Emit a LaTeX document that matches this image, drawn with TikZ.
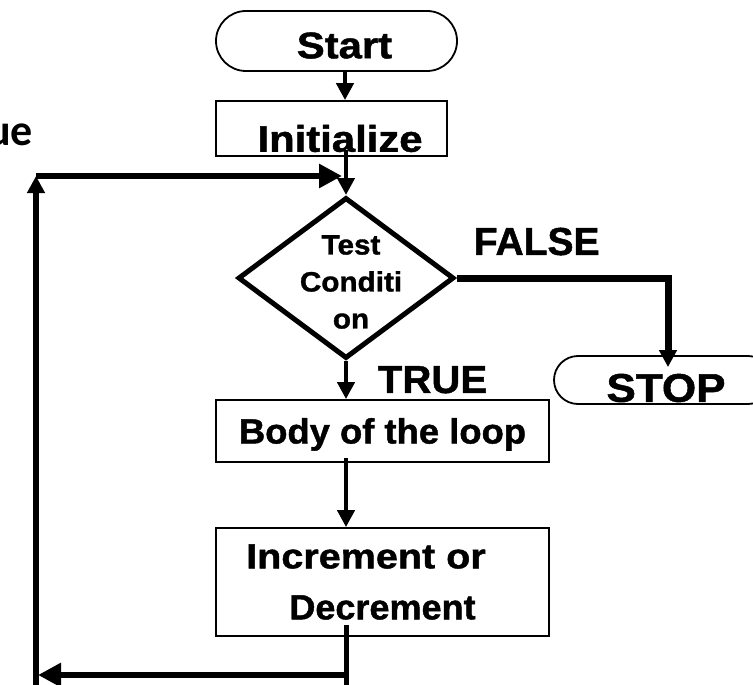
\documentclass[tikz,border=0pt]{standalone}
\usepackage{fontspec}
\usepackage{graphicx}
\setmainfont{Liberation Sans}[BoldFeatures={FakeBold=1.2}]
\newfontfamily\uefont{Carlito}
\usetikzlibrary{shapes.geometric,arrows.meta}
% horizontally stretched text
\newcommand{\wx}[2]{\scalebox{#1}[1]{#2}}
\tikzset{
  fsize/.style={font=\bfseries\fontsize{#1}{#1}\selectfont},
  term/.style={draw, line width=1.8pt, rounded corners=#1, inner sep=0pt},
  procbox/.style={draw, line width=1.8pt, inner sep=0pt},
  link/.style={line width=4.6pt, -{Triangle[length=17pt,width=17pt]}},
  falselink/.style={line width=7pt, -{Triangle[length=17pt,width=17pt]}},
  loopline/.style={line width=5pt},
  looparrow/.style={line width=6.8pt, -{Triangle[length=23pt,width=23pt]}},
  uparrow/.style={line width=6.5pt, -{Triangle[length=17pt,width=17pt]}},
  tag/.style={inner sep=0pt, text height=27.9pt, text depth=0pt,
              font=\bfseries\fontsize{39}{39}\selectfont},
}

\begin{document}
\begin{tikzpicture}[x=1pt,y=-1pt]
\useasboundingbox (0,0) rectangle (753,685);
\clip (0,0) rectangle (753,685);

% terminals and process boxes
\node[term=30pt, minimum width=241pt, minimum height=60pt, fsize=37,
      text height=34.5pt, text depth=0pt] (start) at (336.5,41)
      {\hspace*{16pt}\wx{1.13}{Start}};
\node[procbox, minimum width=231pt, minimum height=55pt, fsize=37,
      text height=46.5pt, text depth=0pt] (init) at (331.5,128.5)
      {\hspace*{17pt}\wx{1.13}{Initialize}};
\node[diamond, draw, line width=5pt, minimum width=216pt, minimum height=161pt,
      inner sep=0pt] (cond) at (346,278) {};
\node[align=center, inner sep=0pt, font=\bfseries\fontsize{28}{37}\selectfont]
      (condtext) at (351,282) {\wx{1.06}{Test}\\\wx{1.06}{Conditi}\\\wx{1.06}{on}};
\node[procbox, minimum width=333pt, minimum height=62pt, fsize=35,
      text height=25pt, text depth=0pt] (body) at (382.5,431)
      {\wx{1.04}{Body of the loop}};
\node[procbox, minimum width=333pt, minimum height=108pt, align=center,
      font=\bfseries\fontsize{35}{51}\selectfont] (incr) at (382.5,582)
      {\wx{1.13}{Increment or}\hspace*{33pt}\\\wx{1.03}{Decrement}};
\node[term=24pt, minimum width=218pt, minimum height=48pt, fsize=40,
      text height=43.6pt, text depth=0pt] (stop) at (663,380)
      {\hspace*{6pt}\wx{1.1}{STOP}};

% branch labels
\node[tag] (falselabel) at (536.7,241) {FALSE};
\node[tag] (truelabel) at (432.5,379) {\wx{1.03}{TRUE}};
\node[font=\uefont\bfseries\fontsize{44}{44}\selectfont, anchor=base east,
      inner sep=0pt] (uetext) at (33,145) {ue};

% main flow
\coordinate (sx) at ([xshift=8.5pt]start.south);
\draw[link] (sx) -- (sx |- init.north);
\coordinate (initout) at ([yshift=7pt]init.south -| cond.north);
\draw[link] (initout) -- (cond.north);
\draw[link] (cond.south) -- (cond.south |- body.north);
\coordinate (bodyout) at ([yshift=5pt]body.south -| cond.south);
\draw[link] (bodyout) -- (bodyout |- incr.north);
\draw[falselink] (cond.east) -| ([xshift=5pt,yshift=-12pt]stop.north);

% loop back to the condition
\coordinate (incrout) at ([yshift=12pt]incr.south -| cond.south);
\coordinate (loopbr) at (346,700);
\coordinate (loopret) at (346,675);
\coordinate (loophit) at (38,675);
\coordinate (loopbl) at (36,700);
\coordinate (looptl) at (36,176);
\coordinate (loopin) at (cond.north |- looptl);
\draw[loopline] (incrout) -- (loopbr);
\draw[looparrow] (loopret) -- (loophit);
\draw[uparrow] (loopbl) -- (looptl);
\draw[looparrow] (looptl) -- ([xshift=-4pt]loopin);
\end{tikzpicture}
\end{document}
